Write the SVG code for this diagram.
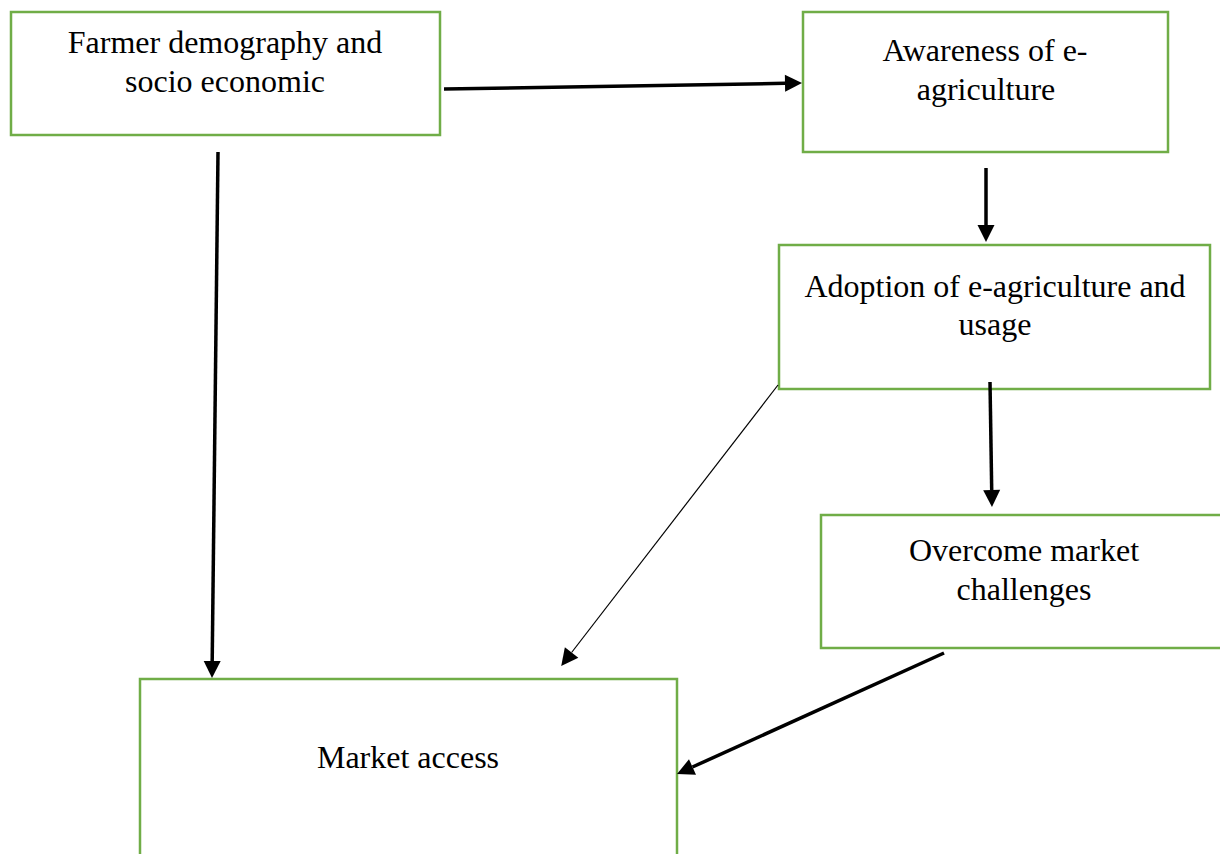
<svg xmlns="http://www.w3.org/2000/svg" width="1220" height="854" viewBox="0 0 1220 854">
  <style>
    .box { fill: #ffffff; stroke: #70AD47; stroke-width: 2.5; }
    .lbl { font-family: "Liberation Serif", "Times New Roman", serif; font-size: 32px; fill: #000000; text-anchor: middle; }
    .thick { stroke: #000000; stroke-width: 3.5; fill: none; marker-end: url(#ah); }
    .thin { stroke: #000000; stroke-width: 1.2; fill: none; marker-end: url(#ah); }
  </style>
  <defs>
    <marker id="ah" markerUnits="userSpaceOnUse" markerWidth="17" markerHeight="17" viewBox="0 0 17 17" refX="0" refY="8.5" orient="auto" overflow="visible">
      <path d="M0,0 L17,8.5 L0,17 Z" fill="#000000"/>
    </marker>
  </defs>
  <rect width="1220" height="854" fill="#ffffff"/>

  <g id="node-farmer">
    <rect class="box" x="11" y="12" width="429" height="123"/>
    <text class="lbl" x="225" y="53">Farmer demography and</text>
    <text class="lbl" x="225" y="92">socio economic</text>
  </g>

  <g id="node-awareness">
    <rect class="box" x="803" y="12" width="365" height="140"/>
    <text class="lbl" x="985" y="61">Awareness of e-</text>
    <text class="lbl" x="986" y="100">agriculture</text>
  </g>

  <g id="node-adoption">
    <rect class="box" x="779" y="245" width="431" height="144"/>
    <text class="lbl" x="995" y="297">Adoption of e-agriculture and</text>
    <text class="lbl" x="995" y="335">usage</text>
  </g>

  <g id="node-overcome">
    <rect class="box" x="821" y="515" width="402" height="133"/>
    <text class="lbl" x="1024" y="561">Overcome market</text>
    <text class="lbl" x="1024" y="600">challenges</text>
  </g>

  <g id="node-market">
    <rect class="box" x="140" y="679" width="537" height="190"/>
    <text class="lbl" x="408" y="768">Market access</text>
  </g>

  <g id="connectors">
    <line class="thick" x1="444" y1="89" x2="785" y2="83.3"/>
    <line class="thick" x1="218" y1="152" x2="212.2" y2="661"/>
    <line class="thick" x1="986" y1="168" x2="986" y2="225"/>
    <line class="thick" x1="990" y1="382" x2="991.7" y2="490"/>
    <line class="thin" x1="778" y1="385" x2="571.6" y2="652.5"/>
    <line class="thick" x1="944" y1="653" x2="692.5" y2="767"/>
  </g>
</svg>
